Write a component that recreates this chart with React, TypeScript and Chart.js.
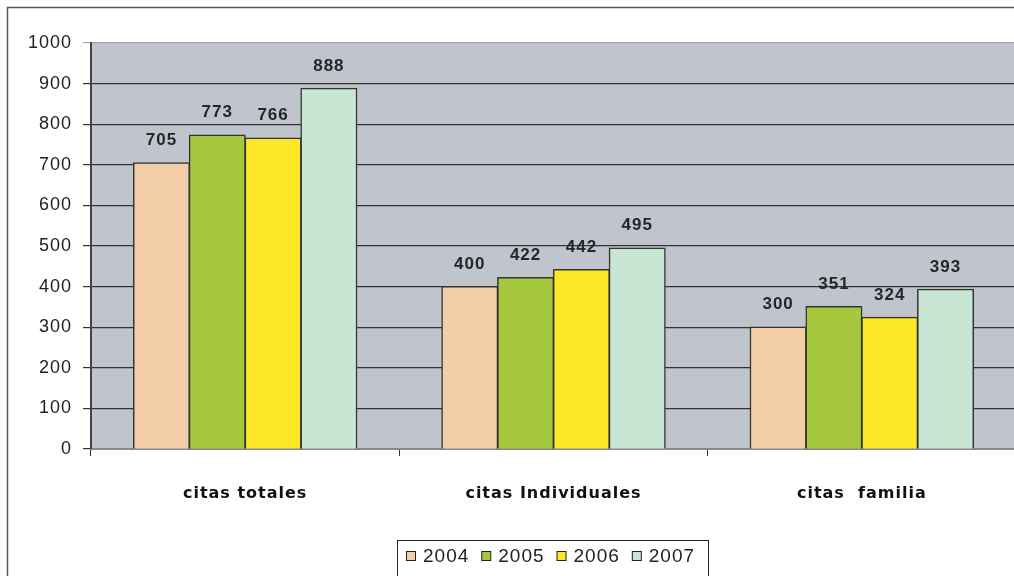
import React, { useEffect, useRef } from "react";
import { Chart, registerables } from "chart.js";

Chart.register(...registerables);

const categories = ["citas totales", "citas Individuales", "citas  familia"];
const seriesLabels = ["2004", "2005", "2006", "2007"];
const values2004 = [705, 400, 300];
const values2005 = [773, 422, 351];
const values2006 = [766, 442, 324];
const values2007 = [888, 495, 393];
const seriesColors = ["#F3CCA8", "#A6C83F", "#FCE829", "#C9E6D5"];
const yTicks = [0, 100, 200, 300, 400, 500, 600, 700, 800, 900, 1000];

const W = 1022;
const H = 600;

const spacingPlugin = {
  id: "spacingPlugin",
  beforeInit(chart: any) {
    chart.ctx.letterSpacing = "1px";
  },
  beforeLayout(chart: any) {
    chart.ctx.letterSpacing = "1px";
  },
  beforeDraw(chart: any) {
    chart.ctx.letterSpacing = "1px";
  },
};

const bgPlugin = {
  id: "bgPlugin",
  beforeDraw(chart: any) {
    const { ctx, chartArea } = chart;
    ctx.save();
    ctx.fillStyle = "#ffffff";
    ctx.fillRect(0, 0, chart.width, chart.height);
    ctx.fillStyle = "#C0C4CC";
    ctx.fillRect(chartArea.left, chartArea.top, chartArea.right - chartArea.left, chartArea.bottom - chartArea.top);
    ctx.restore();
  },
  afterDraw(chart: any) {
    const { ctx } = chart;
    ctx.save();
    ctx.strokeStyle = "#555555";
    ctx.lineWidth = 1.5;
    ctx.strokeRect(7.5, 7.5, chart.width + 50, chart.height + 50);
    const lx = 397.5;
    const ly = 540.5;
    ctx.lineWidth = 1;
    ctx.strokeStyle = "#222222";
    ctx.fillStyle = "#ffffff";
    ctx.fillRect(lx, ly, 311, 100);
    ctx.strokeRect(lx, ly, 311, 100);
    ctx.font = "19px 'Liberation Sans', Arial, sans-serif";
    ctx.textBaseline = "middle";
    ctx.textAlign = "left";
    let x = 406;
    const cy = 556;
    chart.data.datasets.forEach((ds: any) => {
      ctx.fillStyle = ds.backgroundColor;
      ctx.fillRect(x + 0.5, cy - 4.5, 9, 9);
      ctx.strokeStyle = "#222222";
      ctx.strokeRect(x + 0.5, cy - 4.5, 9, 9);
      ctx.fillStyle = "#222222";
      ctx.fillText(ds.label, x + 17, cy + 1);
      const tw = ctx.measureText(ds.label).width;
      x += 17 + tw + 12;
    });
    ctx.restore();
  },
};

const labelPlugin = {
  id: "labelPlugin",
  afterDatasetsDraw(chart: any) {
    const { ctx } = chart;
    ctx.save();
    ctx.font = "bold 17px 'Liberation Sans', Arial, sans-serif";
    ctx.fillStyle = "#262626";
    ctx.textAlign = "center";
    ctx.textBaseline = "bottom";
    chart.data.datasets.forEach((ds: any, i: number) => {
      const meta = chart.getDatasetMeta(i);
      meta.data.forEach((bar: any, j: number) => {
        ctx.fillText(String(ds.data[j]), bar.x, bar.y - 14);
      });
    });
    ctx.restore();
  },
};

export default function App() {
  const ref = useRef<HTMLCanvasElement | null>(null);
  useEffect(() => {
    if (!ref.current) return;
    const allSeries = [values2004, values2005, values2006, values2007];
    const chart = new Chart(ref.current, {
      type: "bar",
      data: {
        labels: categories,
        datasets: allSeries.map((vals, i) => ({
          label: seriesLabels[i],
          data: vals,
          backgroundColor: seriesColors[i],
          borderColor: "#333333",
          borderWidth: 1.5,
          barPercentage: 1,
          categoryPercentage: 0.724,
          inflateAmount: 0.6,
        })),
      },
      options: {
        animation: false,
        responsive: false,
        devicePixelRatio: 1,
        layout: { padding: { left: 0, top: 43, right: 6, bottom: 0 } },
        plugins: {
          legend: { display: false },
          tooltip: { enabled: false },
        },
        scales: {
          x: {
            offset: true,
            grid: {
              offset: true,
              drawOnChartArea: false,
              drawTicks: true,
              tickLength: 7,
              color: "#333333",
            },
            border: { display: true, color: "#8a8a8a", width: 2 },
            ticks: {
              padding: 28,
              color: "#111111",
              font: { family: "'DejaVu Sans', sans-serif", size: 16, weight: "bold" },
            },
            afterFit(scale: any) {
              scale.height = H - 449;
            },
          },
          y: {
            min: 0,
            max: 1000,
            afterBuildTicks(scale: any) {
              scale.ticks = yTicks.map((v) => ({ value: v }));
            },
            grid: {
              drawTicks: true,
              tickLength: 8,
              color: (c: any) => (c.tick && c.tick.value === 1000 ? "#a4a8ae" : "#333333"),
              lineWidth: 1.2,
            },
            border: { display: true, color: "#444444", width: 2 },
            ticks: {
              padding: 11,
              color: "#222222",
              font: { family: "'Liberation Sans', Arial, sans-serif", size: 18 },
              callback: (v: any) => String(v),
            },
            afterFit(scale: any) {
              scale.width = 91;
            },
          },
        },
      },
      plugins: [spacingPlugin, bgPlugin, labelPlugin],
    });
    return () => chart.destroy();
  }, []);
  return (
    <div style={{ position: "fixed", left: 0, top: 0, width: W, height: H, overflow: "hidden" }}>
      <canvas ref={ref} width={W} height={H} style={{ width: W, height: H, display: "block" }} />
    </div>
  );
}
